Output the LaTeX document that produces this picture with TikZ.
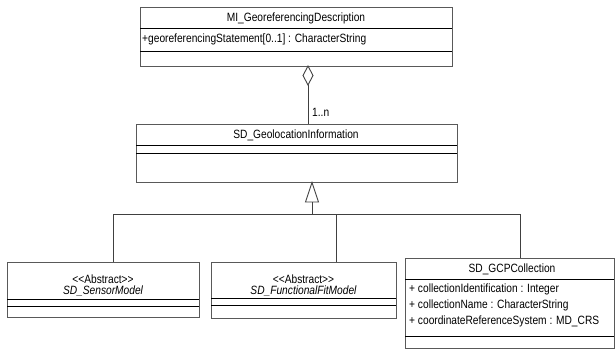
\documentclass[tikz,border=0pt]{standalone}
\usepackage{fontspec}
\setmainfont{Liberation Sans}
\newfontfamily\umlfont[FakeStretch=0.85]{Liberation Sans}
\usetikzlibrary{positioning}
\begin{document}
\begin{tikzpicture}[x=1pt,y=-1pt,
  classbox/.style={draw=black!65,line width=1.1pt,inner sep=0pt,anchor=north west},
  sep/.style={draw=black,line width=0.8pt},
  link/.style={draw=black!75,line width=0.9pt},
  lbl/.style={font=\umlfont\fontsize{12}{13}\selectfont,inner sep=0pt},
  attr/.style={lbl,anchor=west},
  abs/.style={lbl,align=center,font=\umlfont\fontsize{12}{11}\selectfont}]
\useasboundingbox (0,0) rectangle (616,349);

% MI_GeoreferencingDescription
\node[classbox,minimum width=312pt,minimum height=59pt] (mi) at (140,7) {};
\draw[sep] (140,28) -- (452,28);
\draw[sep] (140,51) -- (452,51);
\node[lbl] (miname) at (296,18) {MI\_GeoreferencingDescription};
\node[attr] (miattr) at (142,39) {+georeferencingStatement[0..1] : CharacterString};

% SD_GeolocationInformation
\node[classbox,minimum width=321pt,minimum height=58pt] (geo) at (136,124) {};
\draw[sep] (136,145) -- (457,145);
\draw[sep] (136,153) -- (457,153);
\node[lbl] (geoname) at (296,135) {SD\_GeolocationInformation};

% SD_SensorModel (abstract)
\node[classbox,minimum width=192pt,minimum height=55pt] (sensor) at (7,262) {};
\draw[sep] (7,299) -- (199,299);
\draw[sep] (7,306) -- (199,306);
\node[abs] (sensorname) at (103,285.5) {<{}<Abstract>{}>\\\itshape SD\_SensorModel};

% SD_FunctionalFitModel (abstract)
\node[classbox,minimum width=185pt,minimum height=56pt] (func) at (211,262) {};
\draw[sep] (211,298) -- (396,298);
\draw[sep] (211,305) -- (396,305);
\node[abs] (funcname) at (303.5,285.5) {<{}<Abstract>{}>\\\itshape SD\_FunctionalFitModel};

% SD_GCPCollection
\node[classbox,minimum width=209pt,minimum height=90pt] (gcp) at (405,258) {};
\draw[sep] (405,279) -- (614,279);
\draw[sep] (405,336) -- (614,336);
\node[lbl] (gcpname) at (512,269) {SD\_GCPCollection};
\node[attr] (gcpa) at (409,289) {+ collectionIdentification : Integer};
\node[attr] (gcpb) at (409,305) {+ collectionName : CharacterString};
\node[attr] (gcpc) at (409,321) {+ coordinateReferenceSystem : MD\_CRS};

% aggregation (hollow diamond at the whole)
\coordinate (dtop) at (308,66);
\coordinate (dbot) at (308,85);
\draw[link,fill=white] (dtop) -- (313,75.5) -- (dbot) -- (303,75.5) -- cycle;
\draw[link] (dbot) -- (308,124);
\node[lbl,anchor=west] (mult) at (312,112) {1..n};

% generalization (hollow triangle at the parent)
\coordinate (tapex) at (312,182.5);
\coordinate (tbase) at (312,202);
\coordinate (bus) at (312,214);
\draw[link,fill=white] (tapex) -- (318.5,202) -- (305.5,202) -- cycle;
\draw[link] (tbase) -- (bus);
\draw[link] (113,214) -- (520,214);
\draw[link] (113,214) -- (113,262);
\draw[link] (336,214) -- (336,262);
\draw[link] (520,214) -- (520,258);
\end{tikzpicture}
\end{document}
